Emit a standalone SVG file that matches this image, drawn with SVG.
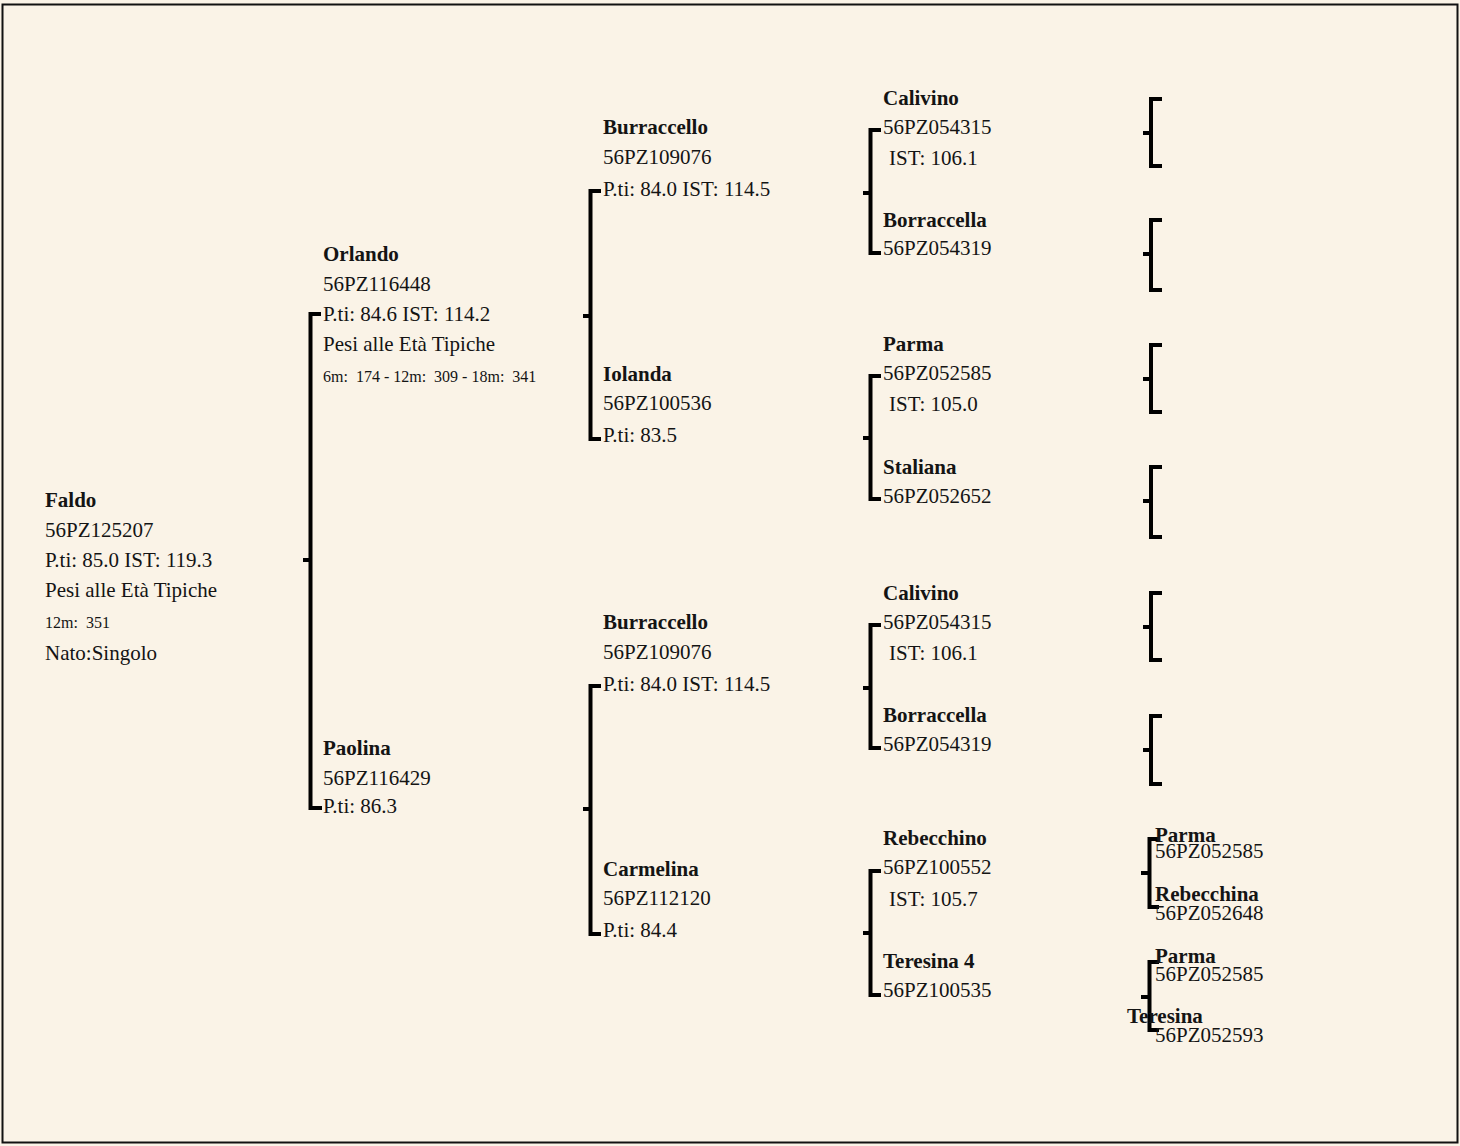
<svg xmlns="http://www.w3.org/2000/svg" width="1460" height="1146" viewBox="0 0 1460 1146">
<style>
text{font-family:"Liberation Serif","Times New Roman",serif;font-size:21px;fill:#141414}
.b{font-weight:bold}
.s{font-size:16px}
.br{fill:none;stroke:#000;stroke-width:4;stroke-linejoin:miter;stroke-linecap:butt}
</style>
<rect x="0" y="0" width="1460" height="1146" fill="#FAF3E7"/>
<rect x="2.5" y="4.5" width="1455" height="1138" fill="none" stroke="#111" stroke-width="2"/>
<g id="connectors">
<path class="br" d="M321,314H310.5V808H322M303,560H310.5"/>
<path class="br" d="M601,191H590.5V439H601M583,316H590.5"/>
<path class="br" d="M601,686H590.5V934H601M583,809H590.5"/>
<path class="br" d="M881,130H870.5V253H881M863,193H870.5"/>
<path class="br" d="M881,376H870.5V499H881M863,438H870.5"/>
<path class="br" d="M881,625H870.5V748H881M863,688H870.5"/>
<path class="br" d="M881,871H870.5V995H881M863,933H870.5"/>
<path class="br" d="M1162,99H1151V166H1162M1143,133H1151"/>
<path class="br" d="M1162,220H1151V290H1162M1143,254H1151"/>
<path class="br" d="M1162,345H1151V412H1162M1143,379H1151"/>
<path class="br" d="M1162,467H1151V537H1162M1143,501H1151"/>
<path class="br" d="M1162,593H1151V660H1162M1143,627H1151"/>
<path class="br" d="M1162,716H1151V784H1162M1143,750H1151"/>
<path class="br" d="M1159,839H1149.5V907H1159M1141,873H1149.5"/>
<path class="br" d="M1159,962H1149.5V1030H1159M1141,997H1149.5"/>
</g>
<g id="faldo">
<text class="b" x="45" y="507">Faldo</text>
<text x="45" y="537">56PZ125207</text>
<text x="45" y="567">P.ti: 85.0 IST: 119.3</text>
<text x="45" y="597">Pesi alle Età Tipiche</text>
<text class="s" x="45" y="628" xml:space="preserve">12m:  351</text>
<text x="45" y="660">Nato:Singolo</text>
</g>
<g id="orlando">
<text class="b" x="323" y="261">Orlando</text>
<text x="323" y="291">56PZ116448</text>
<text x="323" y="321">P.ti: 84.6 IST: 114.2</text>
<text x="323" y="351">Pesi alle Età Tipiche</text>
<text class="s" x="323" y="382" xml:space="preserve">6m:  174 - 12m:  309 - 18m:  341</text>
</g>
<g id="paolina">
<text class="b" x="323" y="755">Paolina</text>
<text x="323" y="785">56PZ116429</text>
<text x="323" y="813">P.ti: 86.3</text>
</g>
<g id="burraccello1">
<text class="b" x="603" y="134">Burraccello</text>
<text x="603" y="164">56PZ109076</text>
<text x="603" y="196">P.ti: 84.0 IST: 114.5</text>
</g>
<g id="iolanda">
<text class="b" x="603" y="381">Iolanda</text>
<text x="603" y="410">56PZ100536</text>
<text x="603" y="442">P.ti: 83.5</text>
</g>
<g id="burraccello2">
<text class="b" x="603" y="629">Burraccello</text>
<text x="603" y="659">56PZ109076</text>
<text x="603" y="691">P.ti: 84.0 IST: 114.5</text>
</g>
<g id="carmelina">
<text class="b" x="603" y="876">Carmelina</text>
<text x="603" y="905">56PZ112120</text>
<text x="603" y="937">P.ti: 84.4</text>
</g>
<g id="calivino1">
<text class="b" x="883" y="105">Calivino</text>
<text x="883" y="134">56PZ054315</text>
<text x="889" y="165">IST: 106.1</text>
</g>
<g id="borraccella1">
<text class="b" x="883" y="227">Borraccella</text>
<text x="883" y="255">56PZ054319</text>
</g>
<g id="parma1">
<text class="b" x="883" y="351">Parma</text>
<text x="883" y="380">56PZ052585</text>
<text x="889" y="411">IST: 105.0</text>
</g>
<g id="staliana">
<text class="b" x="883" y="474">Staliana</text>
<text x="883" y="503">56PZ052652</text>
</g>
<g id="calivino2">
<text class="b" x="883" y="600">Calivino</text>
<text x="883" y="629">56PZ054315</text>
<text x="889" y="660">IST: 106.1</text>
</g>
<g id="borraccella2">
<text class="b" x="883" y="722">Borraccella</text>
<text x="883" y="751">56PZ054319</text>
</g>
<g id="rebecchino">
<text class="b" x="883" y="845">Rebecchino</text>
<text x="883" y="874">56PZ100552</text>
<text x="889" y="906">IST: 105.7</text>
</g>
<g id="teresina4">
<text class="b" x="883" y="968">Teresina 4</text>
<text x="883" y="997">56PZ100535</text>
</g>
<g id="parma2">
<text class="b" x="1155" y="842">Parma</text>
<text x="1155" y="858">56PZ052585</text>
</g>
<g id="rebecchina">
<text class="b" x="1155" y="901">Rebecchina</text>
<text x="1155" y="920">56PZ052648</text>
</g>
<g id="parma3">
<text class="b" x="1155" y="963">Parma</text>
<text x="1155" y="981">56PZ052585</text>
</g>
<g id="teresina">
<text class="b" x="1127" y="1023">Teresina</text>
<text x="1155" y="1042">56PZ052593</text>
</g>
</svg>
